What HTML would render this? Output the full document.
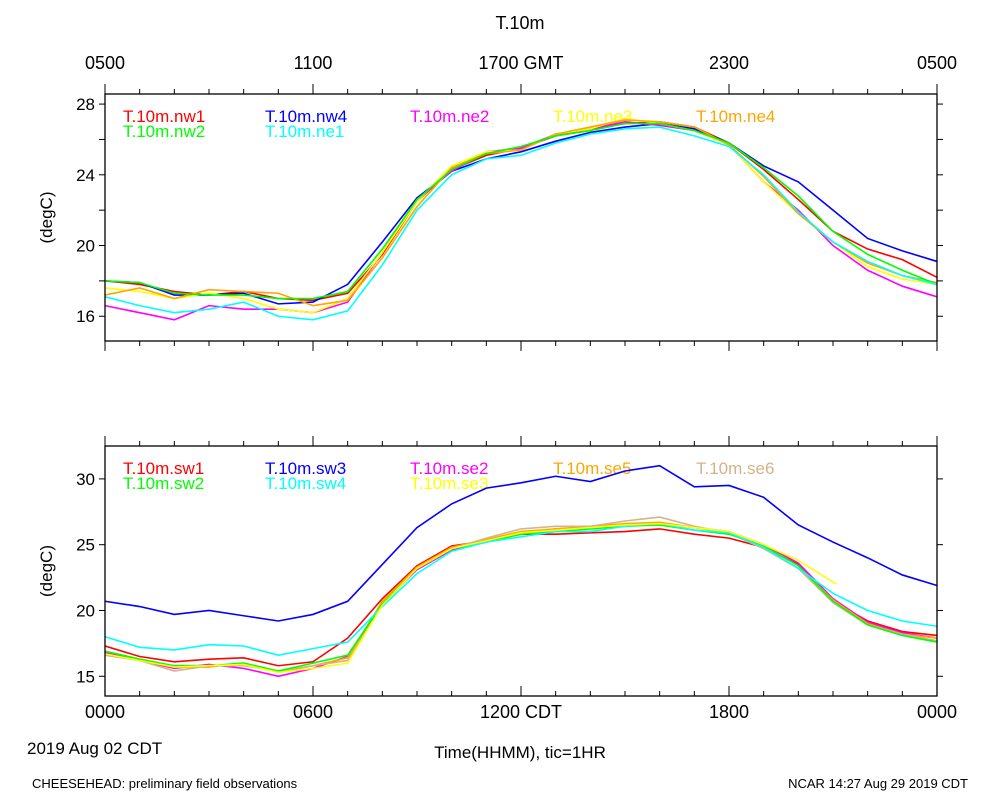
<!DOCTYPE html>
<html><head><meta charset="utf-8"><style>
body{margin:0;background:#fff;}
svg text{font-family:"Liberation Sans",sans-serif;}
</style></head><body>
<svg id="c" width="1000" height="800" xmlns="http://www.w3.org/2000/svg">
<text x="520" y="29" font-size="18" text-anchor="middle">T.10m</text>
<text x="520" y="758" font-size="17" text-anchor="middle">Time(HHMM), tic=1HR</text>
<text x="27" y="754" font-size="17">2019 Aug 02 CDT</text>
<text x="32" y="788" font-size="13">CHEESEHEAD: preliminary field observations</text>
<text x="968" y="788" font-size="13" text-anchor="end">NCAR 14:27 Aug 29 2019 CDT</text>
</svg>
<script>
const hours=[0,1,2,3,4,5,6,7,8,9,10,11,12,13,14,15,16,17,18,19,20,21,22,23,24];
const topNames=["T.10m.nw1","T.10m.nw4","T.10m.ne2","T.10m.ne3","T.10m.ne4","T.10m.nw2","T.10m.ne1"];
const topColors=["#ff0000","#0000ff","#ff00ff","#ffff00","#ffa500","#00ff00","#00ffff"];
const nw1=[18,17.8,17.4,17.2,17.4,17,16.9,17.3,19.5,22.5,24.3,25.1,25.5,26.2,26.6,26.9,27,26.7,25.8,24.3,22.6,20.8,19.8,19.2,18.2];
const nw4=[18,17.9,17.2,17.2,17.3,16.7,16.8,17.8,20.2,22.7,24.2,24.9,25.3,25.9,26.4,26.7,26.9,26.6,25.8,24.5,23.6,22,20.4,19.7,19.1];
const ne2=[16.6,16.2,15.8,16.6,16.4,16.4,16.2,16.8,19.6,22.6,24.2,25.3,25.5,26.3,26.6,27,26.8,26.5,25.7,23.6,22.0,20,18.6,17.7,17.1];
const ne3=[17.6,17.4,17.0,17.3,17,16.4,16.2,17,19.6,22.5,24.5,25.3,25.4,26.3,26.6,27.2,26.9,26.5,25.7,23.6,21.8,20.2,18.8,18.1,17.8];
const ne4=[17.2,17.6,17,17.5,17.4,17.3,16.6,16.9,19.3,22.2,24.4,25.2,25.4,26.3,26.7,27.1,27,26.7,25.7,23.9,21.8,20.2,19,18.3,17.9];
const nw2=[18,17.9,17.3,17.2,17.2,17,17,17.4,19.8,22.6,24.3,25.2,25.6,26.2,26.5,26.9,26.9,26.5,25.8,24.4,22.8,20.8,19.5,18.6,17.8];
const ne1=[17.1,16.6,16.2,16.4,16.8,16,15.8,16.3,18.9,22.0,24,24.9,25.1,25.8,26.3,26.6,26.7,26.2,25.6,24.0,21.9,20.2,19.1,18.3,17.8];
const botNames=["T.10m.sw1","T.10m.sw3","T.10m.se2","T.10m.se5","T.10m.se6","T.10m.sw2","T.10m.sw4","T.10m.se3"];
const botColors=["#ff0000","#0000ff","#ff00ff","#ffa500","#d2b48c","#00ff00","#00ffff","#ffff00"];
const sw1=[17.3,16.5,16.1,16.3,16.4,15.8,16.1,17.9,20.9,23.4,24.9,25.3,25.8,25.8,25.9,26,26.2,25.8,25.5,24.8,23.5,20.7,19.2,18.4,18.1];
const sw3=[20.7,20.3,19.7,20.0,19.6,19.2,19.7,20.7,23.5,26.3,28.1,29.3,29.7,30.2,29.8,30.6,31,29.4,29.5,28.6,26.5,25.2,24.0,22.7,21.9];
const se2=[16.8,16.2,15.6,15.9,15.6,15.0,15.6,16.5,20.5,23.1,24.6,25.2,25.9,26.2,26.3,26.5,26.6,26.3,26.0,25.0,23.6,20.9,19.1,18.3,17.9];
const se5=[16.9,16.3,15.7,15.7,16.0,15.3,15.8,16.4,20.7,23.3,24.8,25.4,26.0,26.2,26.4,26.6,26.7,26.3,25.9,24.9,23.4,20.8,19.0,18.2,17.9];
const se6=[16.6,16.2,15.4,15.8,15.8,15.4,15.8,16.2,20.4,23.2,24.7,25.5,26.2,26.4,26.4,26.8,27.1,26.4,25.9,24.7,23.2,20.6,18.9,18.2,17.7];
const sw2=[16.9,16.3,15.8,15.8,16.0,15.4,16.0,16.6,20.5,23.2,24.7,25.2,25.8,26.0,26.2,26.4,26.5,26.1,25.8,24.9,23.4,20.7,18.9,18.1,17.6];
const sw4=[18,17.2,17,17.4,17.3,16.6,17.1,17.6,20.3,22.8,24.5,25.2,25.6,26,26,26.4,26.6,26.1,25.9,24.8,23.2,21.3,20.0,19.2,18.8];
const se3h=[0,1,2,3,4,5,6,7,8,9,10,11,12,13,14,15,16,17,18,19,20,21.1];
const se3=[16.7,16.2,15.7,15.8,15.9,15.3,15.6,16.0,20.4,23.2,24.7,25.3,25.9,26.1,26.3,26.5,26.6,26.3,26.0,25.0,23.8,22.0];
const topTicks=[16,20,24,28], topMinor=[16,18,20,22,24,26,28];
const botTicks=[15,20,25,30];
const topXLabels=["0500","1100","1700 GMT","2300","0500"];
const botXLabels=["0000","0600","1200 CDT","1800","0000"];

const svg=document.getElementById('c');
const NS="http://www.w3.org/2000/svg";
const X0=105,X1=937;
function xs(h){return X0+(X1-X0)*h/24;}
function mk(tag,attrs){const e=document.createElementNS(NS,tag);for(const k in attrs)e.setAttribute(k,attrs[k]);svg.appendChild(e);return e;}
function panel(pref,yTop,yBot,vTop,vBot,ticks,minor,xl,xlY,names,colors,series,legendY,bottomIn){
  const ys=v=>yTop+(vTop-v)/(vTop-vBot)*(yBot-yTop);
  const lx=[123,265,410,553,696];
  names.forEach((n,i)=>{
    const row=i<5?0:1, col=i<5?i:i-5;
    const t=mk('text',{x:lx[col],y:legendY+row*15,'font-size':17,fill:colors[i]});
    
    
    t.textContent=n;
  });
  series.forEach((s,i)=>{
    const hh=s[1]||hours;
    const p=mk('polyline',{points:s[0].map((v,j)=>xs(hh[j])+','+ys(v)).join(' '),fill:'none',stroke:colors[i],'stroke-width':1.6});
    
    
  });
  const r=mk('rect',{x:X0,y:yTop,width:X1-X0,height:yBot-yTop,fill:'none',stroke:'#000','stroke-width':1.3});
  
  
  for(let h=0;h<=24;h++){
    const L=h%6==0?10:5;
    const a=mk('line',{x1:xs(h),x2:xs(h),y1:yTop-L,y2:yTop,stroke:'#000'});
    
    
    const b=mk('line',{x1:xs(h),x2:xs(h),y1:bottomIn?yBot-L:yBot,y2:bottomIn?yBot:yBot+L,stroke:'#000'});
    
    
  }
  minor.forEach(v=>{
    const a=mk('line',{x1:X0-6,x2:X0,y1:ys(v),y2:ys(v),stroke:'#000'});
    
    
    const b=mk('line',{x1:X1,x2:X1+6,y1:ys(v),y2:ys(v),stroke:'#000'});
    
    
  });
  ticks.forEach(v=>{
    const t=mk('text',{x:X0-10,y:ys(v)+6,'font-size':17,'text-anchor':'end'});
    
    
    t.textContent=v;
  });
  xl.forEach((s,i)=>{
    const t=mk('text',{x:xs(i*6),y:xlY,'font-size':18,'text-anchor':'middle'});
    
    
    t.textContent=s;
  });
  const yc=(yTop+yBot)/2;
  const t=mk('text',{x:52,y:yc,'font-size':17,'text-anchor':'middle',transform:'rotate(-90 52 '+yc+')'});
  
  
  t.textContent='(degC)';
}
panel('top',94,341,28.57,14.6,topTicks,topMinor,topXLabels,69,topNames,topColors,
  [[nw1],[nw4],[ne2],[ne3],[ne4],[nw2],[ne1]],122,false);
panel('bottom',446,696,32.5,13.5,botTicks,botTicks,botXLabels,718,botNames,botColors,
  [[sw1],[sw3],[se2],[se5],[se6],[sw2],[sw4],[se3,se3h]],474,true);
</script>
</body></html>
